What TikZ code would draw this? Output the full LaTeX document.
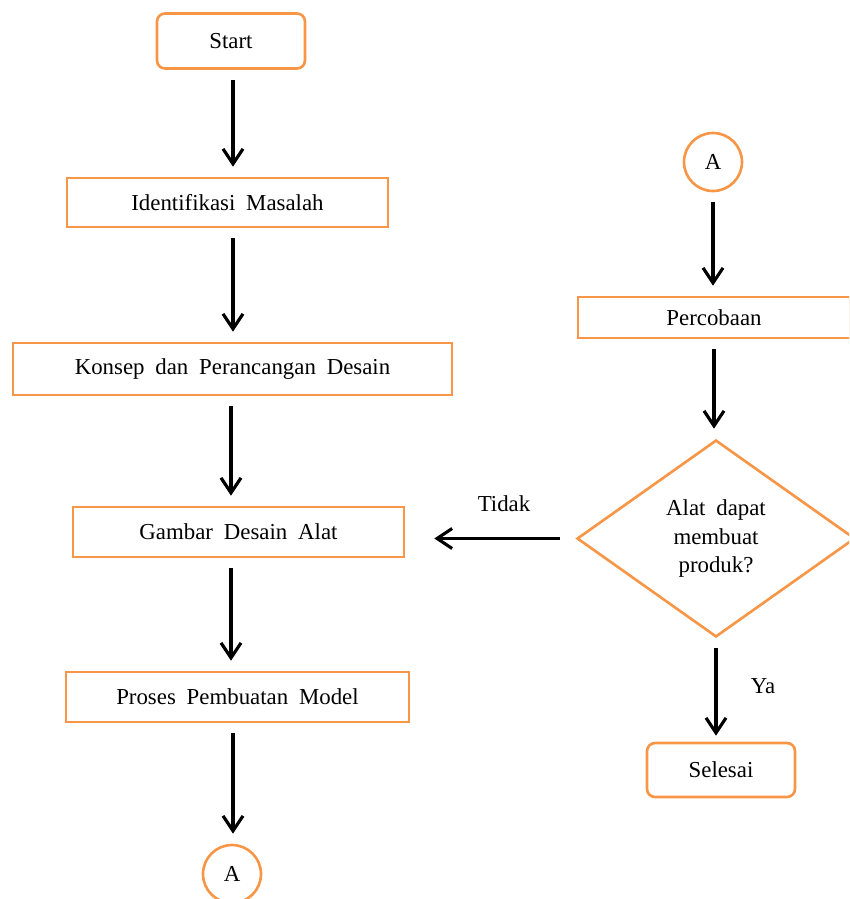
\documentclass[tikz,border=0pt]{standalone}
\usepackage{fontspec}
\setmainfont[WordSpace=1.9]{Liberation Serif}
\usepackage{tikz}
\usetikzlibrary{shapes.geometric,arrows.meta}
\definecolor{boxorange}{RGB}{247,150,70}

\begin{document}
\begin{tikzpicture}[x=0.02cm,y=-0.02cm,
   font=\fontsize{13}{16.5}\selectfont,
   box/.style={draw=boxorange,line width=1.5pt,rectangle,inner sep=0pt},
   term/.style={box,rounded corners=0.16cm},
   conn/.style={draw=boxorange,line width=1.5pt,circle,inner sep=0pt,minimum size=1.16cm},
   arr/.style={-{Straight Barb[length=0.3cm,width=0.4cm]},line width=1.8pt,
      shorten <=0.2cm,shorten >=0.2cm}]
   \clip (0,0) rectangle (849,899);

   \node[term,minimum width=2.96cm,minimum height=1.1cm] (start) at (231,41) {Start};
   \node[box,minimum width=6.42cm,minimum height=0.98cm] (ident) at (227.5,202.5) {Identifikasi Masalah};
   \node[box,minimum width=8.78cm,minimum height=1.04cm] (konsep) at (232.5,369) {Konsep dan Perancangan Desain};
   \node[box,minimum width=6.62cm,minimum height=1.0cm] (gambar) at (238.5,532) {Gambar Desain Alat};
   \node[box,minimum width=6.86cm,minimum height=1.0cm] (proses) at (237.5,697) {Proses Pembuatan Model};
   \node[conn] (aleft) at (232,874) {A};

   \node[conn] (aright) at (713,162) {A};
   \node[box,minimum width=5.44cm,minimum height=0.82cm] (coba) at (714,317.5) {Percobaan};
   \node[draw=boxorange,line width=1.5pt,diamond,aspect=1.41,inner sep=0pt,
      minimum width=5.56cm,minimum height=3.94cm,align=center] (cek) at (716,538.5)
      {Alat dapat\\membuat\\produk?};
   \node[term,minimum width=2.96cm,minimum height=1.08cm] (selesai) at (721,770) {Selesai};

   \node (tidak) at (504,504) {Tidak};
   \node (ya) at (763,686) {Ya};

   \draw[arr] ([xshift=0.04cm]start.south) -- ([xshift=0.04cm]start.south |- ident.north);
   \draw[arr] ([xshift=0.11cm]ident.south) -- ([xshift=0.11cm]ident.south |- konsep.north);
   \draw[arr] ([xshift=-0.03cm]konsep.south) -- ([xshift=-0.03cm]konsep.south |- gambar.north);
   \draw[arr] ([xshift=-0.15cm]gambar.south) -- ([xshift=-0.15cm]gambar.south |- proses.north);
   \draw[arr] ([xshift=-0.09cm]proses.south) -- ([xshift=-0.09cm]proses.south |- aleft.north);

   \draw[arr] (aright.south) -- (aright.south |- coba.north);
   \draw[arr] (coba.south) -- (coba.south |- cek.north);
   \draw[arr,shorten <=0.32cm,shorten >=0.58cm] (cek.west) -- (cek.west -| gambar.east);
   \draw[arr,shorten >=0.12cm] (cek.south) -- (cek.south |- selesai.north);
\end{tikzpicture}
\end{document}
